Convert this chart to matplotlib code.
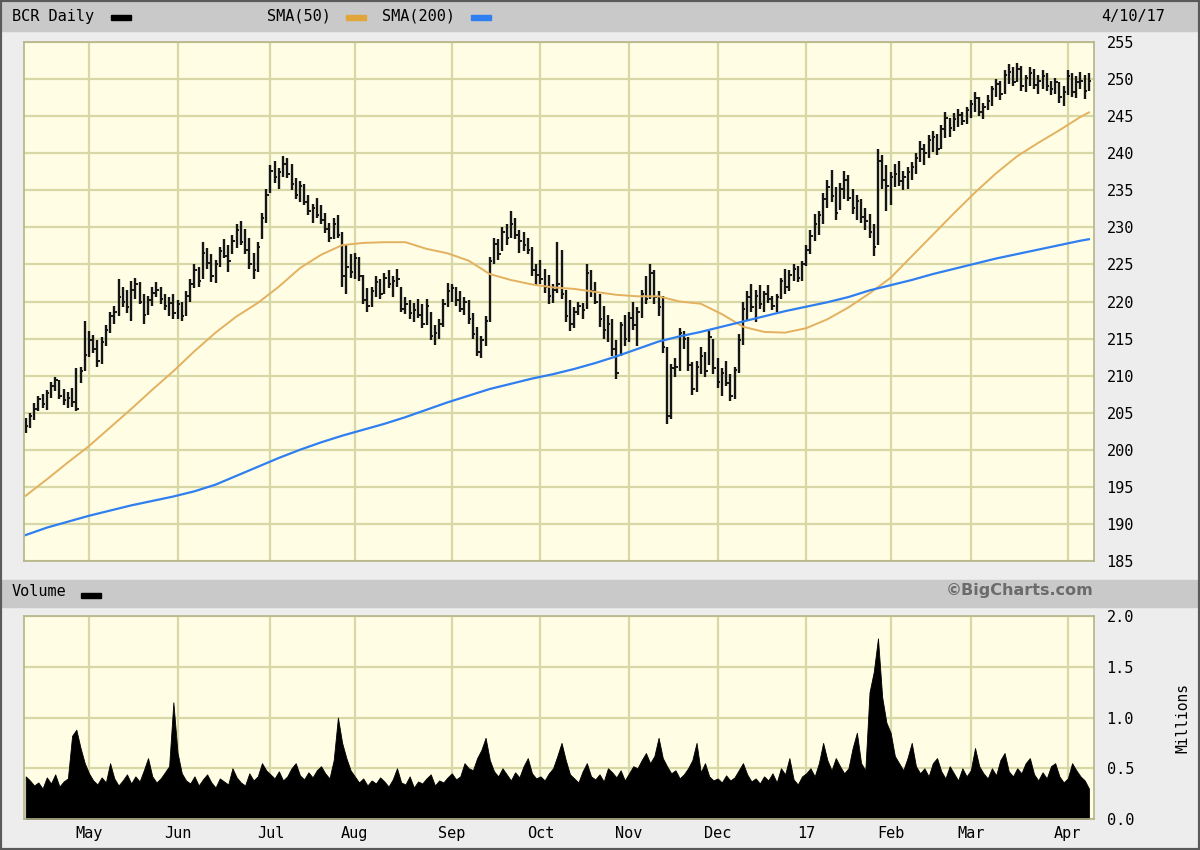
"""BCR daily price bars with SMA lines and a volume panel (BigCharts style)"""
import matplotlib

matplotlib.use("Agg")
import matplotlib.pyplot as plt
import numpy as np
import pandas as pd
from matplotlib import patches

MONO = "DejaVu Sans Mono"

# trading days 4/11/16 - 4/10/17 (market holidays removed)
holidays = ["2016-05-30", "2016-07-04", "2016-09-05", "2016-11-24",
            "2016-12-26", "2017-01-02", "2017-01-16", "2017-02-20"]
month_labels = ["May", "Jun", "Jul", "Aug", "Sep", "Oct",
                "Nov", "Dec", "17", "Feb", "Mar", "Apr"]

# daily highs, one line per month (Apr-16 ... Apr-17)
high = [
    204.3, 205.0, 206.3, 207.2, 207.5, 208.0, 209.2, 209.8, 209.4, 208.2, 207.8, 208.4, 211.0, 211.2, 217.4,
    216.0, 215.5, 214.8, 215.2, 216.8, 218.6, 219.4, 223.0, 222.0, 221.6, 222.8, 223.2, 222.6, 221.0, 220.8, 222.0, 222.6, 222.0, 221.0, 220.6, 221.0,
    220.2, 220.0, 221.4, 223.0, 225.0, 224.6, 228.0, 227.2, 226.4, 225.6, 227.4, 228.4, 227.6, 229.0, 230.4, 230.8, 229.8, 228.5, 226.6, 228.0, 232.0, 235.2,
    238.4, 239.0, 238.0, 239.6, 239.4, 238.6, 236.6, 236.2, 235.8, 234.4, 233.2, 234.0, 233.0, 232.0, 230.6, 231.2, 231.7, 229.4, 227.6, 226.4,
    226.6, 226.0, 223.6, 221.8, 222.0, 223.4, 223.0, 223.8, 224.2, 223.4, 224.4, 222.0, 220.6, 220.2, 219.8, 220.4, 219.6, 220.3, 218.6, 216.8, 217.6, 220.4, 222.5,
    222.4, 222.0, 221.4, 220.6, 220.2, 218.4, 216.6, 215.4, 218.0, 226.0, 228.6, 228.4, 230.0, 230.4, 232.2, 231.2, 229.6, 229.4, 228.6, 227.4, 225.0,
    225.6, 224.4, 223.6, 222.4, 228.0, 227.0, 221.6, 220.2, 219.2, 220.0, 219.8, 225.0, 224.2, 222.6, 221.0, 219.4, 218.2, 217.6, 214.8, 217.2, 218.2,
    218.6, 220.0, 219.2, 221.6, 223.4, 225.0, 224.2, 221.4, 220.8, 213.8, 211.6, 212.4, 216.4, 216.0, 215.2, 211.8, 212.0, 213.8, 213.2, 216.0, 215.0,
    212.4, 211.0, 212.0, 210.2, 211.2, 215.6, 220.0, 221.4, 222.4, 221.6, 222.2, 221.4, 222.2, 220.8, 221.0, 223.2, 224.4, 224.2, 225.0, 224.8, 225.4,
    227.6, 229.6, 231.8, 232.2, 234.6, 236.4, 237.8, 235.4, 236.0, 237.6, 237.0, 235.2, 234.4, 233.8, 232.6, 231.8, 230.4, 240.6, 239.8, 238.4,
    237.4, 238.6, 239.0, 237.6, 238.2, 238.8, 240.0, 241.6, 241.2, 242.4, 243.0, 242.6, 243.8, 245.6, 244.8, 245.4, 246.0, 245.6, 246.2,
    247.2, 248.3, 247.6, 246.8, 247.8, 249.0, 250.0, 249.8, 251.2, 252.0, 251.6, 252.2, 251.8, 250.6, 251.6, 251.4, 250.6, 251.2, 250.8, 249.8, 250.2, 249.6, 249.0,
    251.2, 250.8, 250.4, 251.0, 250.6, 250.8,
]
low = [
    202.2, 203.0, 204.0, 205.2, 205.6, 205.4, 207.0, 207.9, 206.8, 206.0, 205.6, 205.8, 205.2, 209.0, 210.6,
    212.5, 213.0, 211.2, 211.6, 214.0, 215.8, 217.0, 218.0, 219.2, 218.4, 217.4, 220.4, 219.6, 217.0, 218.2, 219.4, 220.6, 219.6, 218.8, 218.0, 217.6,
    217.6, 217.4, 218.0, 220.0, 221.8, 222.0, 223.0, 224.4, 222.6, 222.5, 224.6, 225.8, 224.0, 226.4, 227.2, 227.6, 226.4, 224.4, 223.0, 224.0, 228.4, 230.6,
    234.6, 236.0, 235.2, 236.8, 236.6, 235.0, 233.8, 233.4, 233.0, 231.6, 230.6, 231.2, 230.4, 229.2, 228.0, 228.4, 228.6, 222.0, 221.0, 223.2,
    223.0, 222.8, 219.6, 218.6, 219.2, 220.6, 220.4, 221.0, 221.8, 220.6, 222.0, 218.6, 218.3, 217.6, 217.2, 217.8, 216.4, 216.8, 214.8, 214.2, 215.0, 216.6, 219.2,
    220.0, 219.4, 218.6, 218.2, 217.0, 215.0, 212.6, 212.4, 214.0, 217.2, 225.0, 225.6, 226.8, 227.6, 228.6, 228.4, 226.6, 226.8, 226.4, 223.4, 222.2,
    222.4, 221.2, 219.6, 219.8, 221.2, 220.4, 217.2, 216.0, 216.4, 218.2, 217.6, 219.0, 220.6, 219.6, 216.6, 215.0, 214.6, 212.6, 209.6, 212.6, 214.0,
    214.6, 216.2, 214.0, 217.8, 219.6, 220.4, 219.6, 218.0, 213.0, 203.5, 204.2, 209.8, 210.6, 213.6, 210.6, 207.4, 207.8, 210.2, 209.8, 211.4, 210.2,
    208.4, 207.2, 208.6, 206.6, 206.8, 210.4, 214.2, 217.4, 218.6, 217.2, 219.0, 218.6, 219.8, 218.8, 218.6, 220.4, 221.0, 221.4, 222.8, 222.6, 222.8,
    224.8, 226.4, 228.2, 229.0, 230.4, 232.6, 233.4, 231.0, 232.4, 233.8, 233.6, 231.8, 231.0, 230.6, 229.6, 228.6, 226.2, 227.6, 235.2, 232.2,
    233.0, 235.4, 235.6, 235.0, 235.2, 236.4, 237.2, 238.8, 238.4, 239.4, 240.2, 239.8, 240.6, 242.0, 242.2, 243.0, 243.6, 243.8, 244.0,
    244.8, 245.6, 245.0, 244.6, 245.8, 246.4, 247.6, 247.2, 248.0, 249.4, 249.0, 249.6, 248.4, 248.3, 249.0, 248.6, 248.0, 248.6, 248.4, 247.8, 248.0, 246.8, 246.4,
    247.8, 247.6, 247.4, 248.6, 247.3, 248.4,
]
close = [
    203.2, 204.6, 205.5, 206.8, 206.2, 207.6, 208.6, 209.4, 207.3, 206.7, 207.0, 206.4, 205.5, 210.6, 212.8,
    214.8, 213.6, 212.0, 214.6, 216.2, 218.0, 218.6, 220.6, 220.0, 219.2, 221.6, 222.4, 220.0, 218.2, 220.2, 221.2, 221.6, 220.4, 219.4, 219.8, 218.4,
    219.6, 218.0, 220.8, 222.4, 224.2, 222.8, 226.6, 225.2, 223.4, 225.0, 226.8, 226.2, 225.4, 228.2, 229.6, 228.0, 227.0, 225.0, 224.2, 227.4, 231.2, 234.4,
    237.6, 236.8, 237.4, 238.6, 237.2, 235.8, 234.4, 235.6, 233.4, 232.2, 232.6, 231.6, 231.0, 229.8, 228.6, 230.4, 229.0, 223.4, 224.6, 224.0,
    225.8, 223.4, 220.2, 219.4, 221.4, 222.6, 221.0, 223.2, 222.4, 222.8, 223.0, 219.0, 219.6, 218.4, 218.8, 218.2, 217.0, 219.4, 215.4, 215.8, 217.0, 219.6, 221.4,
    221.8, 220.2, 219.0, 220.0, 217.6, 215.6, 213.2, 214.8, 217.4, 225.4, 227.8, 226.4, 229.4, 228.6, 230.4, 229.0, 228.2, 227.6, 227.0, 224.2, 223.6,
    223.0, 222.0, 220.8, 221.6, 222.4, 221.0, 218.0, 217.0, 218.6, 219.4, 218.8, 223.8, 221.4, 220.0, 217.6, 216.2, 217.0, 213.6, 210.4, 216.8, 215.0,
    217.8, 216.8, 218.6, 221.0, 220.4, 223.8, 220.6, 219.2, 213.8, 204.6, 211.0, 211.2, 215.8, 215.0, 211.4, 208.2, 211.2, 212.6, 210.6, 215.2, 211.0,
    209.2, 210.4, 209.0, 207.2, 210.8, 214.8, 219.0, 220.6, 219.2, 220.8, 219.6, 221.0, 220.4, 219.4, 220.6, 222.8, 222.0, 223.6, 224.4, 223.2, 225.0,
    227.0, 228.8, 230.4, 231.6, 233.8, 235.4, 234.2, 232.0, 235.2, 236.4, 234.0, 232.6, 233.6, 231.4, 230.8, 229.4, 227.4, 239.0, 236.4, 235.6,
    236.8, 237.2, 236.2, 236.8, 237.4, 238.2, 239.4, 240.6, 240.0, 241.8, 242.2, 240.6, 243.2, 244.8, 243.4, 244.6, 245.2, 244.4, 245.8,
    246.6, 247.4, 245.6, 246.2, 247.0, 248.6, 249.4, 248.0, 250.6, 251.0, 249.6, 251.4, 249.0, 250.2, 250.8, 249.2, 249.8, 250.4, 249.0, 248.6, 249.6, 247.6, 248.2,
    250.4, 248.2, 249.6, 249.8, 248.4, 249.8,
]
# volume in millions of shares
volume = [
    0.42, 0.38, 0.33, 0.36, 0.30, 0.41, 0.35, 0.44, 0.32, 0.37, 0.40, 0.82, 0.88, 0.70, 0.55,
    0.45, 0.38, 0.34, 0.41, 0.36, 0.55, 0.40, 0.33, 0.38, 0.44, 0.35, 0.42, 0.37, 0.48, 0.60, 0.42, 0.36, 0.40, 0.46, 0.52, 1.15,
    0.65, 0.45, 0.38, 0.35, 0.42, 0.33, 0.39, 0.44, 0.36, 0.31, 0.40, 0.37, 0.34, 0.50, 0.41, 0.36, 0.33, 0.45, 0.38, 0.42, 0.55, 0.48,
    0.44, 0.40, 0.47, 0.38, 0.42, 0.50, 0.55, 0.43, 0.39, 0.46, 0.41, 0.48, 0.52, 0.45, 0.40, 0.58, 1.00, 0.75, 0.60, 0.48,
    0.42, 0.36, 0.40, 0.33, 0.38, 0.35, 0.41, 0.37, 0.32, 0.39, 0.50, 0.36, 0.34, 0.42, 0.31, 0.37, 0.35, 0.40, 0.44, 0.33, 0.38, 0.36, 0.41,
    0.45, 0.39, 0.42, 0.55, 0.50, 0.48, 0.60, 0.68, 0.80, 0.58, 0.47, 0.42, 0.50, 0.44, 0.38, 0.46, 0.41, 0.52, 0.60, 0.45, 0.40,
    0.42, 0.38, 0.45, 0.50, 0.62, 0.75, 0.58, 0.44, 0.40, 0.36, 0.47, 0.55, 0.42, 0.39, 0.44, 0.37, 0.50, 0.46, 0.41, 0.48, 0.38,
    0.45, 0.52, 0.50, 0.58, 0.65, 0.55, 0.62, 0.80, 0.60, 0.52, 0.45, 0.48, 0.40, 0.44, 0.50, 0.58, 0.75, 0.46, 0.55, 0.42, 0.38,
    0.40, 0.36, 0.43, 0.38, 0.41, 0.48, 0.55, 0.44, 0.37, 0.40, 0.35, 0.42, 0.38, 0.45, 0.36, 0.50, 0.44, 0.60, 0.39, 0.34, 0.42,
    0.45, 0.50, 0.42, 0.55, 0.75, 0.58, 0.48, 0.60, 0.52, 0.45, 0.50, 0.70, 0.85, 0.55, 0.48, 1.25, 1.45, 1.78, 1.20, 0.95,
    0.85, 0.62, 0.55, 0.48, 0.60, 0.75, 0.52, 0.45, 0.50, 0.42, 0.55, 0.60, 0.47, 0.40, 0.52, 0.45, 0.38, 0.50, 0.42,
    0.48, 0.70, 0.52, 0.45, 0.40, 0.50, 0.43, 0.58, 0.65, 0.47, 0.42, 0.50, 0.45, 0.55, 0.60, 0.44, 0.38, 0.46, 0.40, 0.52, 0.55, 0.42, 0.36,
    0.40, 0.55, 0.48, 0.42, 0.38, 0.30,
]
# moving averages, sampled every 5th trading day (plus the last day)
sma50 = [193.8, 196.0, 198.3, 200.5, 203.0, 205.5, 208.1, 210.6, 213.3, 215.8, 218.0, 219.8, 222.0,
         224.5, 226.3, 227.6, 227.9, 228.0, 228.0, 227.1, 226.5, 225.5, 223.7, 222.9, 222.3, 221.9,
         221.7, 221.3, 220.9, 220.7, 220.7, 220.0, 219.7, 218.3, 216.6, 215.9, 215.8, 216.4, 217.6,
         219.2, 221.1, 223.2, 226.1, 229.0, 231.9, 234.7, 237.3, 239.6, 241.4, 243.1, 244.9, 245.5]
sma200 = [188.5, 189.5, 190.3, 191.1, 191.8, 192.5, 193.1, 193.7, 194.4, 195.3, 196.5, 197.7, 198.9,
          200.0, 201.0, 201.9, 202.7, 203.5, 204.4, 205.4, 206.4, 207.3, 208.2, 208.9, 209.6, 210.2,
          210.9, 211.7, 212.6, 213.6, 214.6, 215.3, 215.9, 216.6, 217.3, 218.0, 218.7, 219.3, 219.9,
          220.6, 221.5, 222.2, 222.9, 223.7, 224.4, 225.1, 225.8, 226.4, 227.0, 227.6, 228.2, 228.4]

# colours
PANEL = "#fffde4"
GRID = "#d8d8a6"
SPINE = "#b4b488"
HEADER = "#c9c9c9"
ORANGE = "#e3b15f"
BLUE = "#2f7ff0"


def fig_px(x, y):
    """Convert pixel position (from top left) to figure fraction"""
    return x / 1200, 1 - y / 850


def style_panel(axis, month_pos):
    """Yellow panel with olive grid, labels on the right"""
    axis.set_facecolor(PANEL)
    axis.set_xlim(-0.4, len(close) + 0.2)
    axis.set_xticks(month_pos)
    axis.grid(True, color=GRID, linewidth=1.6)
    axis.set_axisbelow(True)
    axis.yaxis.tick_right()
    axis.tick_params(length=0, labelsize=11, pad=9)
    for label in axis.get_yticklabels() + axis.get_xticklabels():
        label.set_family(MONO)
    for spine in axis.spines.values():
        spine.set_color(SPINE)
        spine.set_linewidth(1.2)


dates = pd.bdate_range("2016-04-11", "2017-04-10")
dates = dates[~dates.isin(pd.to_datetime(holidays))]
days = np.arange(len(dates))
period = dates.to_period("M")
month_pos = [i for i in range(1, len(dates)) if period[i] != period[i - 1]]
sma_days = list(days[::5]) + [days[-1]]

fig = plt.figure(figsize=(12, 8.5), dpi=100, facecolor="#ededed")

# header bars
fig.patches.append(patches.Rectangle(fig_px(0, 31), 1, 31 / 850,
                                     transform=fig.transFigure, color=HEADER, zorder=0))
fig.patches.append(patches.Rectangle(fig_px(0, 607), 1, 27 / 850,
                                     transform=fig.transFigure, color=HEADER, zorder=0))
fig.patches.append(patches.Rectangle((0, 0), 1, 1, transform=fig.transFigure,
                                     fill=False, edgecolor="#5a5a5a", linewidth=3, zorder=5))

# header texts and legend swatches
fig.text(*fig_px(12, 16), "BCR Daily", family=MONO, fontsize=11, va="center")
fig.text(*fig_px(267, 16), "SMA(50)", family=MONO, fontsize=11, va="center")
fig.text(*fig_px(382, 16), "SMA(200)", family=MONO, fontsize=11, va="center")
fig.text(*fig_px(1165, 16), "4/10/17", family=MONO, fontsize=11, va="center", ha="right")
fig.text(*fig_px(12, 592), "Volume", family=MONO, fontsize=11, va="center")
fig.text(*fig_px(1094, 591), "\u00a9BigCharts.com", fontsize=11.5, weight="bold",
         color="#6b6b6b", va="center", ha="right")
for x_left, color in [(111, "black"), (346, "#e0a63a"), (471, BLUE), (81, "black")]:
    y_mid = 595 if x_left == 81 else 17
    fig.patches.append(patches.Rectangle(fig_px(x_left, y_mid + 2.5), 20 / 1200, 5 / 850,
                                         transform=fig.transFigure, color=color))

# price panel
ax = fig.add_axes([24 / 1200, 1 - 561 / 850, 1070 / 1200, 519 / 850])
ax.vlines(days, low, high, color="#151515", linewidth=1.7)
ax.hlines(close, days, days + 0.6, color="#151515", linewidth=1.4)
ax.plot(sma_days, sma50, color=ORANGE, linewidth=1.4)
ax.plot(sma_days, sma200, color=BLUE, linewidth=1.6)
ax.set_ylim(185, 255)
ax.set_yticks(np.arange(185, 256, 5))
style_panel(ax, month_pos)
ax.set_xticklabels([])

# volume panel
ax_vol = fig.add_axes([24 / 1200, 1 - 819 / 850, 1070 / 1200, 203 / 850])
ax_vol.fill_between(days, 0, volume, color="black", linewidth=0.6, edgecolor="black")
ax_vol.set_ylim(0, 2.0)
ax_vol.set_yticks([0.0, 0.5, 1.0, 1.5, 2.0])
ax_vol.set_yticklabels(["0.0", "0.5", "1.0", "1.5", "2.0"])
style_panel(ax_vol, month_pos)
ax_vol.set_xticklabels(month_labels)
ax_vol.tick_params(axis="x", pad=5)
fig.text(*fig_px(1183, 718), "Millions", family=MONO, fontsize=10.5,
         rotation=90, va="center", ha="center")

fig.savefig("out.png", dpi=100, facecolor=fig.get_facecolor())
